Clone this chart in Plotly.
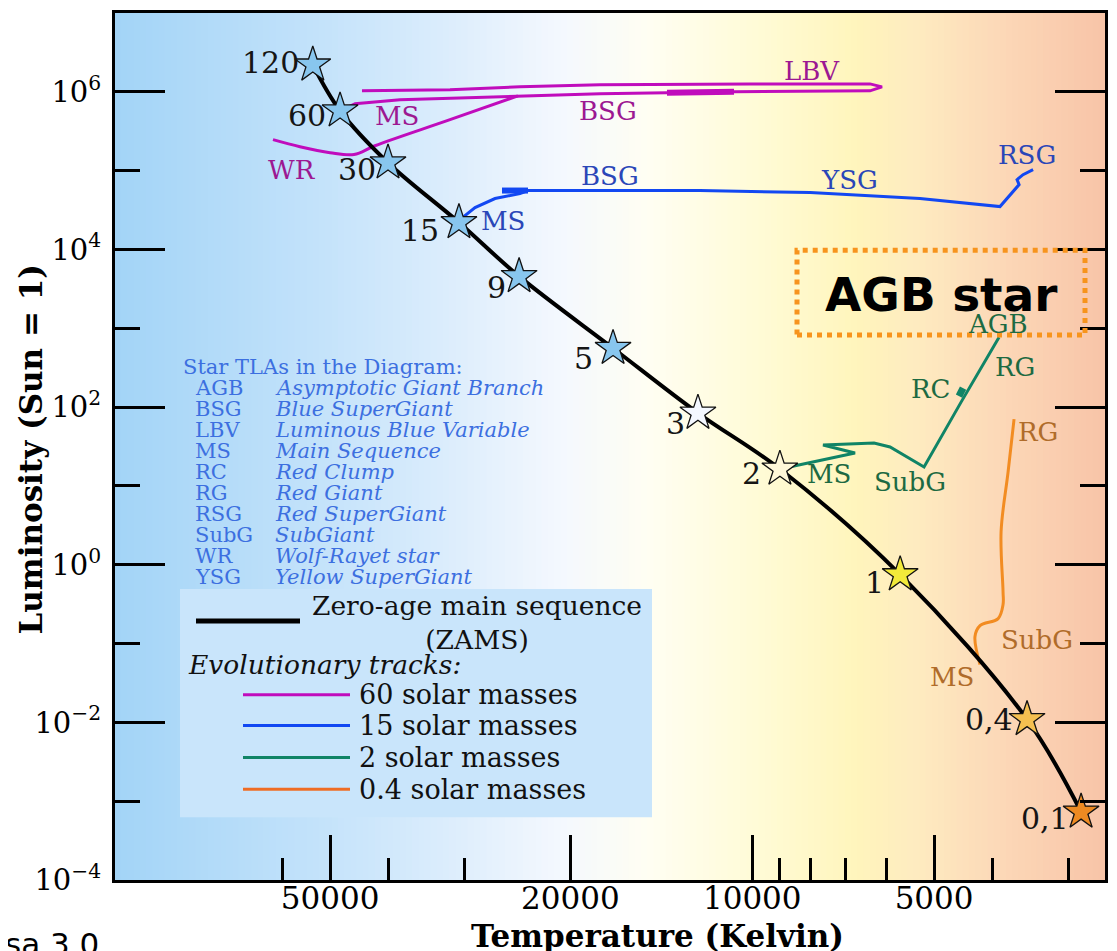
import numpy as np
import plotly.graph_objects as go

# ---------------- data (temperature in K, luminosity in L_sun) ----------------
zams_labels = ["120", "60", "30", "15", "9", "5", "3", "2", "1", "0,4", "0,1"]
zams_temp = [53400, 48130, 40090, 30590, 24320, 17000, 12300, 9000, 5690, 3508, 2855]
zams_lum = [2.2e6, 5.75e5, 1.26e5, 2.2e4, 4550, 558, 84, 16.4, 0.75, 0.0109, 7.3e-4]

track60_temp = [48130, 45440, 38300, 29340, 24430, 17870, 13840, 10720, 6383, 6097,
                6383, 10090, 17870, 24240, 31650, 44270]
track60_lum = [5.75e5, 7.05e5, 7.92e5, 8.40e5, 8.89e5, 9.43e5, 9.71e5, 1.0e6, 1.03e6, 1.156e6,
               1.26e6, 1.26e6, 1.23e6, 1.156e6, 1.06e6, 1.03e6]
track60_wr_temp = [24430, 31650, 42120, 45630, 50000, 56080, 62150]
track60_wr_lum = [8.89e5, 4.43e5, 2.07e5, 1.6e5, 1.69e5, 2.01e5, 2.47e5]
track60_thick_temp = [13840, 10720]
track60_thick_lum = [9.71e5, 1.0e6]

track15_temp = [30590, 29890, 28770, 26660, 24240, 23510, 25960, 20810, 12210, 8023, 5277,
                3889, 3616, 3644, 3562, 3428]
track15_lum = [2.2e4, 2.69e4, 3.4e4, 4.43e4, 5.12e4, 5.59e4, 5.59e4, 5.59e4, 5.59e4, 5.27e4,
               4.43e4, 3.5e4, 6.65e4, 7.69e4, 8.89e4, 1.03e5]
track15_thick_temp = [25960, 23510]
track15_thick_lum = [5.59e4, 5.59e4]

track2_temp = [9000, 7962, 6758, 7636, 6286, 5914, 5195, 4511, 3903]
track2_lum = [16.4, 20.1, 26.2, 33.0, 35.0, 31.2, 17.4, 115.6, 769]
track2_rc_temp = [4547, 4477]
track2_rc_lum = [137.7, 174]

track04_temp = [4197, 4278, 4197, 3917, 3844, 3844, 3873, 3771, 3686]
track04_lum = [0.0542, 0.1228, 0.169, 0.207, 0.312, 0.455, 2.62, 15.0, 70.5]

# phase labels: (text, temperature, luminosity)
labels60 = [("LBV", 7960, 1.85e6), ("MS", 38740, 4.97e5), ("BSG", 17330, 5.75e5), ("WR", 57800, 1.03e5)]
labels15 = [("MS", 25860, 2.33e4), ("BSG", 17200, 8.65e4), ("YSG", 6890, 7.7e4), ("RSG", 3508, 1.6e5)]
labels2 = [("MS", 7463, 14.2), ("SubG", 5481, 11.2), ("RC", 5078, 169), ("RG", 3673, 321), ("AGB", 3917, 1125)]
labels04 = [("RG", 3365, 48.3), ("SubG", 3378, 0.1125), ("MS", 4669, 0.0372)]

tla_abbr = ["AGB", "BSG", "LBV", "MS", "RC", "RG", "RSG", "SubG", "WR", "YSG"]
tla_desc = ["Asymptotic Giant Branch", "Blue SuperGiant", "Luminous Blue Variable",
            "Main Sequence", "Red Clump", "Red Giant", "Red SuperGiant", "SubGiant",
            "Wolf-Rayet star", "Yellow SuperGiant"]

legend_tracks = ["60 solar masses", "15 solar masses", "2 solar masses", "0.4 solar masses"]

x_major = [50000, 20000, 10000, 5000]
x_minor = [60000, 40000, 30000, 9000, 8000, 7000, 6000, 4000, 3000]
y_major = [1e-4, 1e-2, 1, 1e2, 1e4, 1e6]
y_major_text = ["10<sup>−4</sup>", "10<sup>−2</sup>", "10<sup>0</sup>", "10<sup>2</sup>",
                "10<sup>4</sup>", "10<sup>6</sup>"]
y_minor = [1e-3, 1e-1, 10, 1e3, 1e5]

# ---------------- styles ----------------
SERIF = "DejaVu Serif"
C60, C15, C2, C04 = "#c00cbc", "#1248f2", "#108466", "#f28c22"
L60, L15, L2, L04 = "#9c1892", "#2a46b8", "#1d6a42", "#b06c2a"
LEG04 = "#ee6c24"
star_colors = ["#88c6ee"] * 6 + ["#f4f8ff", "#fff8d8", "#f2ea3a", "#f5c050", "#ee8a22"]
label_shift = [(-12, 2), (-12, -5), (-10, -7), (-18, -8), (-11, -11), (-18, -10),
               (-11, -10), (-17, -5), (-14, -8), (-12, 0), (-10, -7)]

# page offset: browser body margin of 8px
OFF = 8
W, H = 1117 - OFF, 951 - OFF
# plot area in page pixels (for decorations only)
PL, PR, PT, PB = 115, 1105, 10, 880
def pxx(x):
    return (x - PL) / (PR - PL)
def pxy(y):
    return (PB - y) / (PB - PT)

def lg(v):
    return float(np.log10(v))

fig = go.Figure()

# background gradient strips
stops = [(0.0, (163, 212, 247)), (0.187, (192, 225, 250)), (0.338, (220, 237, 252)),
         (0.45, (244, 248, 254)), (0.54, (255, 254, 242)), (0.65, (255, 251, 214)),
         (0.75, (255, 245, 188)), (0.81, (254, 235, 192)), (0.89, (252, 217, 184)),
         (1.0, (248, 196, 168))]
sx = [s[0] for s in stops]
N = 160
shapes = []
for i in range(N):
    f = (i + 0.5) / N
    rgb = [int(round(np.interp(f, sx, [s[1][k] for s in stops]))) for k in range(3)]
    shapes.append(dict(type="rect", xref="paper", yref="paper", x0=i / N, x1=(i + 1) / N + 0.002,
                       y0=0, y1=1, fillcolor="rgb(%d,%d,%d)" % tuple(rgb), line=dict(width=0),
                       layer="below"))

# legend box
shapes.append(dict(type="rect", xref="paper", yref="paper", x0=pxx(180), x1=pxx(652),
                   y0=pxy(817), y1=pxy(588), fillcolor="#c9e5fb", line=dict(width=0), layer="below"))
# legend lines
shapes.append(dict(type="line", xref="paper", yref="paper", x0=pxx(196), x1=pxx(300),
                   y0=pxy(620), y1=pxy(620), line=dict(color="black", width=5)))
for yy, col in zip([694, 725, 757, 789], [C60, C15, C2, LEG04]):
    shapes.append(dict(type="line", xref="paper", yref="paper", x0=pxx(243), x1=pxx(350),
                       y0=pxy(yy), y1=pxy(yy), line=dict(color=col, width=3)))
# AGB star box
shapes.append(dict(type="rect", xref="paper", yref="paper", x0=pxx(797), x1=pxx(1085),
                   y0=pxy(333), y1=pxy(248), line=dict(color="#f7941d", width=5, dash="dot"),
                   fillcolor="rgba(0,0,0,0)"))

# ---------------- traces ----------------
def add_line(t, l, color, width, shape="linear"):
    fig.add_trace(go.Scatter(x=t, y=l, mode="lines", line=dict(color=color, width=width, shape=shape),
                             hoverinfo="skip", showlegend=False))

add_line(track60_temp, track60_lum, C60, 3)
add_line(track60_wr_temp, track60_wr_lum, C60, 3, "spline")
add_line(track60_thick_temp, track60_thick_lum, C60, 6)
add_line(track15_temp, track15_lum, C15, 3)
add_line(track15_thick_temp, track15_thick_lum, C15, 6)
add_line(track2_temp, track2_lum, C2, 3)
add_line(track2_rc_temp, track2_rc_lum, C2, 7)
add_line(track04_temp, track04_lum, C04, 3, "spline")
add_line(zams_temp, zams_lum, "black", 4, "spline")

fig.add_trace(go.Scatter(x=zams_temp, y=zams_lum, mode="markers",
                         marker=dict(symbol="star", size=27, color=star_colors,
                                     line=dict(color="#111111", width=1.3)),
                         hoverinfo="skip", showlegend=False))

# ---------------- annotations ----------------
ann = []
for lab, t, l, (dx, dy) in zip(zams_labels, zams_temp, zams_lum, label_shift):
    ann.append(dict(x=lg(t), y=lg(l), xref="x", yref="y", text=lab, showarrow=False,
                    xanchor="right", yanchor="middle", xshift=dx, yshift=dy,
                    font=dict(family=SERIF, size=30, color="#151515")))

for group, col in [(labels60, L60), (labels15, L15), (labels2, L2), (labels04, L04)]:
    for txt, t, l in group:
        ann.append(dict(x=lg(t), y=lg(l), xref="x", yref="y", text=txt, showarrow=False,
                        xanchor="center", yanchor="middle",
                        font=dict(family=SERIF, size=26, color=col)))

TLA = "#3c6fe0"
TS = 21
ann.append(dict(x=pxx(181), y=pxy(365), xref="paper", yref="paper", text="Star TLAs in the Diagram:",
                showarrow=False, xanchor="left", yanchor="middle",
                font=dict(family=SERIF, size=TS, color=TLA)))
for i, (a, d) in enumerate(zip(tla_abbr, tla_desc)):
    yy = 386 + i * 21.1
    ann.append(dict(x=pxx(193), y=pxy(yy), xref="paper", yref="paper", text=a, showarrow=False,
                    xanchor="left", yanchor="middle", font=dict(family=SERIF, size=TS, color=TLA)))
    ann.append(dict(x=pxx(273), y=pxy(yy), xref="paper", yref="paper", text="<i>%s</i>" % d,
                    showarrow=False, xanchor="left", yanchor="middle",
                    font=dict(family=SERIF, size=TS, color=TLA)))

LS = 27
ann.append(dict(x=pxx(477), y=pxy(622), xref="paper", yref="paper",
                text="Zero-age main sequence<br>(ZAMS)", showarrow=False, align="center",
                xanchor="center", yanchor="middle", font=dict(family=SERIF, size=LS - 0.5, color="#111")))
ann.append(dict(x=pxx(186), y=pxy(664), xref="paper", yref="paper", text="<i>Evolutionary tracks:</i>",
                showarrow=False, xanchor="left", yanchor="middle",
                font=dict(family=SERIF, size=LS - 0.5, color="#111")))
for yy, txt in zip([694, 725, 757, 789], legend_tracks):
    ann.append(dict(x=pxx(357), y=pxy(yy), xref="paper", yref="paper", text=txt, showarrow=False,
                    xanchor="left", yanchor="middle", font=dict(family=SERIF, size=LS, color="#111")))

ann.append(dict(x=pxx(941), y=pxy(292), xref="paper", yref="paper", text="<b>AGB star</b>",
                showarrow=False, xanchor="center", yanchor="middle",
                font=dict(family="DejaVu Sans", size=47, color="black")))

ann.append(dict(x=pxx(31), y=pxy(448), xref="paper", yref="paper", text="<b>Luminosity (Sun = 1)</b>",
                showarrow=False, textangle=-90, xanchor="center", yanchor="middle",
                font=dict(family=SERIF, size=31, color="black")))
ann.append(dict(x=pxx(657), y=pxy(936), xref="paper", yref="paper", text="<b>Temperature (Kelvin)</b>",
                showarrow=False, xanchor="center", yanchor="middle",
                font=dict(family=SERIF, size=31, color="black")))
ann.append(dict(x=pxx(3), y=pxy(924), xref="paper", yref="paper", text="sa 3.0",
                showarrow=False, xanchor="left", yanchor="top",
                font=dict(family="DejaVu Sans", size=31, color="black")))

fig.update_layout(
    width=W, height=H,
    margin=dict(l=PL - OFF, r=W - (PR - OFF), t=PT - OFF, b=H - (PB - OFF)),
    paper_bgcolor="white", plot_bgcolor="rgba(0,0,0,0)",
    showlegend=False, shapes=shapes, annotations=ann,
    xaxis=dict(type="log", range=[5.055, 3.416], showline=True, linewidth=3, linecolor="black",
               mirror=True, ticks="inside", ticklen=45, tickwidth=3, tickcolor="black",
               tickvals=x_major, ticktext=[str(v) for v in x_major],
               tickfont=dict(family=SERIF, size=31, color="black"), ticklabelstandoff=-11,
               showgrid=False, zeroline=False,
               minor=dict(tickvals=x_minor, ticks="inside", ticklen=22, tickwidth=3,
                          tickcolor="black", showgrid=False)),
    yaxis=dict(type="log", range=[-4, 7], showline=True, linewidth=3, linecolor="black",
               mirror="ticks", ticks="inside", ticklen=50, tickwidth=3, tickcolor="black",
               tickvals=y_major, ticktext=y_major_text,
               tickfont=dict(family=SERIF, size=29, color="black"), ticklabelstandoff=5,
               showgrid=False, zeroline=False,
               minor=dict(tickvals=y_minor, ticks="inside", ticklen=25, tickwidth=3,
                          tickcolor="black", showgrid=False)),
)

fig.write_html("out.html")
